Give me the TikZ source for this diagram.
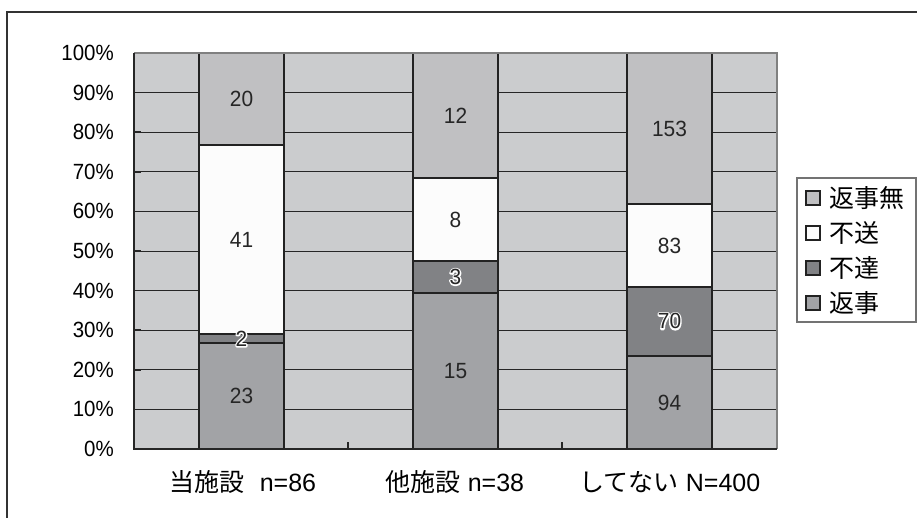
\documentclass[tikz,border=0pt]{standalone}
\usepackage{fontspec}
\setmainfont{Liberation Sans}
\newfontfamily\jp{Noto Sans CJK JP}
\newcommand{\halotext}[1]{\leavevmode\rlap{\special{pdf:literal direct q 1 Tr 1 1 1 RG 1 1 1 rg 3 w 1 j}#1\special{pdf:literal direct Q}}#1}
\definecolor{plotbg}{HTML}{CBCCCE}
\definecolor{cnone}{HTML}{C0C0C2}
\definecolor{cnotsent}{HTML}{FCFCFC}
\definecolor{cundeliv}{HTML}{818285}
\definecolor{creply}{HTML}{A2A3A6}
\definecolor{edge}{HTML}{222222}
\tikzset{
  seg/.style={draw=edge, line width=2pt},
  grid line/.style={draw=black!85, line width=0.9pt},
  ylab/.style={anchor=east, inner sep=0pt, xscale=0.93, font=\fontsize{22}{24}\selectfont},
  vlab/.style={inner sep=0pt, xscale=0.95, font=\fontsize{22}{24}\selectfont, text=black!85},
  catlab/.style={inner sep=0pt, font=\fontsize{25}{28}\selectfont},
  legtext/.style={anchor=west, inner sep=0pt, font=\jp\fontsize{25}{28}\selectfont},
  legmark/.style={draw=edge, line width=1.6pt, minimum size=13.5pt, inner sep=0pt},
}
\begin{document}
\begin{tikzpicture}[x=1pt,y=-1pt]
\useasboundingbox (0,0) rectangle (917,518);
% outer frame (partial)
\draw[black!80, line width=1.5pt] (7,518) -- (7,12) -- (917,12);
% plot area
\fill[plotbg] (134,53) rectangle (777,449);
\foreach \p in {1,...,9} {
  \draw[grid line] (134,{449-3.96*\p*10}) -- (777,{449-3.96*\p*10});
  \draw[black!85, line width=1.6pt] (134,{449-3.96*\p*10}) -- (141,{449-3.96*\p*10});
}
% bar 1 : 23 / 2 / 41 / 20 of 86
\path[seg, fill=creply]   (199,449)   rectangle (284,343.1);
\path[seg, fill=cundeliv] (199,343.1) rectangle (284,333.9);
\path[seg, fill=cnotsent] (199,333.9) rectangle (284,145.1);
\path[seg, fill=cnone]    (199,145.1) rectangle (284,53);
% bar 2 : 15 / 3 / 8 / 12 of 38
\path[seg, fill=creply]   (413,449)   rectangle (498,292.7);
\path[seg, fill=cundeliv] (413,292.7) rectangle (498,261.4);
\path[seg, fill=cnotsent] (413,261.4) rectangle (498,178.1);
\path[seg, fill=cnone]    (413,178.1) rectangle (498,53);
% bar 3 : 94 / 70 / 83 / 153 of 400
\path[seg, fill=creply]   (627,449)   rectangle (712,355.9);
\path[seg, fill=cundeliv] (627,355.9) rectangle (712,286.6);
\path[seg, fill=cnotsent] (627,286.6) rectangle (712,204.5);
\path[seg, fill=cnone]    (627,204.5) rectangle (712,53);
% plot border and axes
\draw[black!50, line width=1.8pt] (134,53) -- (777,53) -- (777,449);
\draw[black!85, line width=1.8pt] (134,53) -- (134,449) -- (777,449);
\foreach \x in {348,562} \draw[black!85, line width=1.3pt] (\x,449) -- (\x,442);
% y-axis labels
\foreach \p/\n in {0/p0,10/p10,20/p20,30/p30,40/p40,50/p50,60/p60,70/p70,80/p80,90/p90,100/p100}
  \node[ylab] (\n) at (114,{449-3.96*\p}) {\p\%};
% value labels
\node[vlab] (b1a) at (241.5,396)   {23};
\node[vlab] (b1b) at (241.5,338.5) {\halotext{2}};
\node[vlab] (b1c) at (241.5,239.5) {41};
\node[vlab] (b1d) at (241.5,99)    {20};
\node[vlab] (b2a) at (455.5,370.9) {15};
\node[vlab] (b2b) at (455.5,277)   {\halotext{3}};
\node[vlab] (b2c) at (455.5,219.8) {8};
\node[vlab] (b2d) at (455.5,115.5) {12};
\node[vlab] (b3a) at (669.5,402.5) {94};
\node[vlab] (b3b) at (669.5,321.3) {\halotext{70}};
\node[vlab] (b3c) at (669.5,245.5) {83};
\node[vlab] (b3d) at (669.5,128.8) {153};
% category labels
\node[catlab] (c1) at (243,482) {{\jp 当施設}\hspace{15pt}n=86};
\node[catlab] (c2) at (455,482) {{\jp 他施設} n=38};
\node[catlab] (c3) at (670,482) {{\jp してない} N=400};
% legend
\draw[black!55, line width=1.2pt] (797,178) rectangle (916,322);
\node[legmark, fill=cnone]    (m1) at (813,198) {};
\node[legmark, fill=cnotsent] (m2) at (813,233) {};
\node[legmark, fill=cundeliv] (m3) at (813,268) {};
\node[legmark, fill=creply]   (m4) at (813,303) {};
\node[legtext] (t1) at (829,198) {返事無};
\node[legtext] (t2) at (829,233) {不送};
\node[legtext] (t3) at (829,268) {不達};
\node[legtext] (t4) at (829,303) {返事};
\end{tikzpicture}
\end{document}
